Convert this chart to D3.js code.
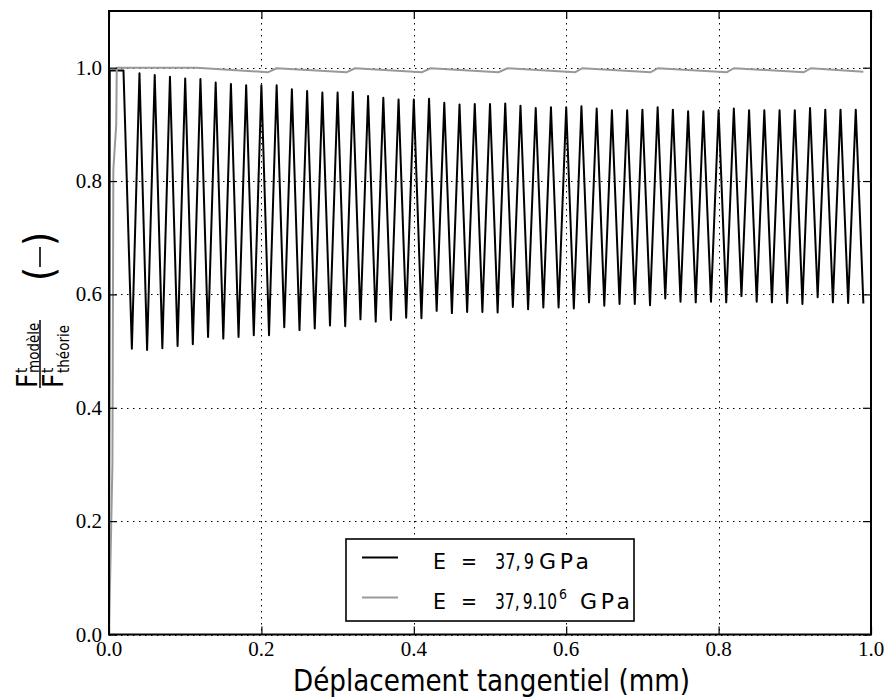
<!DOCTYPE html>
<html><head><meta charset="utf-8">
<script src="https://cdn.jsdelivr.net/npm/d3@7"></script>
<style>body{margin:0;background:#fff}svg{display:block}</style>
</head><body><svg id="c" width="885" height="699"></svg>
<script>
// ---- data ----
const displacementSoft = [0, 0.001, 0.019, 0.03, 0.04, 0.05, 0.06, 0.07, 0.08, 0.09, 0.10, 0.11, 0.12, 0.13, 0.14, 0.15, 0.16, 0.17, 0.18, 0.19, 0.20, 0.21, 0.22, 0.23, 0.24, 0.25, 0.26, 0.27, 0.28, 0.29, 0.30, 0.31, 0.32, 0.33, 0.34, 0.35, 0.36, 0.37, 0.38, 0.39, 0.40, 0.41, 0.42, 0.43, 0.44, 0.45, 0.46, 0.47, 0.48, 0.49, 0.50, 0.51, 0.52, 0.53, 0.54, 0.55, 0.56, 0.57, 0.58, 0.59, 0.60, 0.61, 0.62, 0.63, 0.64, 0.65, 0.66, 0.67, 0.68, 0.69, 0.70, 0.71, 0.72, 0.73, 0.74, 0.75, 0.76, 0.77, 0.78, 0.79, 0.80, 0.81, 0.82, 0.83, 0.84, 0.85, 0.86, 0.87, 0.88, 0.89, 0.90, 0.91, 0.92, 0.93, 0.94, 0.95, 0.96, 0.97, 0.98, 0.99];
const ratioSoft = [0, 0.995, 0.995, 0.504, 0.990, 0.502, 0.987, 0.505, 0.984, 0.509, 0.981, 0.512, 0.980, 0.525, 0.974, 0.522, 0.971, 0.525, 0.969, 0.528, 0.969, 0.528, 0.969, 0.542, 0.962, 0.537, 0.959, 0.540, 0.956, 0.545, 0.956, 0.544, 0.957, 0.556, 0.950, 0.552, 0.947, 0.555, 0.944, 0.559, 0.944, 0.558, 0.945, 0.571, 0.938, 0.567, 0.935, 0.569, 0.936, 0.569, 0.936, 0.568, 0.937, 0.578, 0.933, 0.574, 0.929, 0.577, 0.930, 0.577, 0.930, 0.575, 0.932, 0.586, 0.928, 0.580, 0.925, 0.583, 0.925, 0.583, 0.926, 0.581, 0.930, 0.593, 0.926, 0.587, 0.923, 0.586, 0.923, 0.587, 0.925, 0.586, 0.928, 0.597, 0.925, 0.587, 0.925, 0.586, 0.925, 0.585, 0.925, 0.583, 0.929, 0.595, 0.926, 0.586, 0.926, 0.585, 0.926, 0.584];
const displacementStiff = [0, 0.0045, 0.0057, 0.0095, 0.0102, 0.115, 0.209, 0.220, 0.312, 0.323, 0.411, 0.422, 0.511, 0.523, 0.612, 0.621, 0.711, 0.720, 0.811, 0.820, 0.912, 0.921, 0.990];
const ratioStiff = [0, 0.30, 0.82, 0.90, 1.000, 1.000, 0.992, 0.999, 0.992, 0.999, 0.992, 0.999, 0.992, 0.999, 0.992, 0.999, 0.992, 0.999, 0.992, 0.999, 0.992, 0.999, 0.993];
const xTicks = [0, 0.2, 0.4, 0.6, 0.8, 1.0];
const xTickLabels = ["0.0", "0.2", "0.4", "0.6", "0.8", "1.0"];
const yTicks = [0, 0.2, 0.4, 0.6, 0.8, 1.0];
const yTickLabels = ["0.0", "0.2", "0.4", "0.6", "0.8", "1.0"];
const xLabel = "Déplacement tangentiel (mm)";
const seriesColors = ["#000000", "#999999"];

// ---- layout ----
const L = 109, R = 871, T = 11, B = 634.5;
const svg = d3.select("#c");
const x = d3.scaleLinear().domain([0, 1]).range([L, R]);
const y = d3.scaleLinear().domain([0, 1.1]).range([B, T]);
const SANS = "'DejaVu Sans Condensed','DejaVu Sans',sans-serif";
const SANSW = "'DejaVu Sans',sans-serif";
const SERIF = "'Liberation Serif','Times New Roman',serif";

// grid
const grid = svg.append("g").attr("stroke", "#000").attr("stroke-width", 1).attr("stroke-dasharray", "1.5,4.5");
grid.selectAll(".gx").data(xTicks).join("line")
  .attr("x1", d => Math.round(x(d)) + 0.5).attr("x2", d => Math.round(x(d)) + 0.5).attr("y1", T).attr("y2", B);
grid.selectAll(".gy").data(yTicks).join("line")
  .attr("y1", d => Math.round(y(d)) + 0.5).attr("y2", d => Math.round(y(d)) + 0.5).attr("x1", L).attr("x2", R);

// lines
const line = d3.line().x(d => x(d[0])).y(d => y(d[1]));
const soft = displacementSoft.map((d, i) => [d, ratioSoft[i]]);
const stiff = displacementStiff.map((d, i) => [d, ratioStiff[i]]);
svg.append("path").attr("d", line(soft)).attr("fill", "none").attr("stroke", seriesColors[0])
  .attr("stroke-width", 2).attr("stroke-linejoin", "round");
svg.append("path").attr("d", line(stiff)).attr("fill", "none").attr("stroke", seriesColors[1])
  .attr("stroke-width", 2).attr("stroke-linejoin", "round");

// axes: inward ticks on all sides (labels drawn separately)
function styleAxis(g) {
  g.select(".domain").remove();
  g.selectAll(".tick line").attr("stroke", "#000").attr("stroke-width", 1.2);
  g.selectAll(".tick text").remove();
}
svg.append("g").attr("transform", `translate(0,${B})`).call(d3.axisBottom(x).tickValues(xTicks).tickSize(-8)).call(styleAxis);
svg.append("g").attr("transform", `translate(0,${T})`).call(d3.axisTop(x).tickValues(xTicks).tickSize(-8)).call(styleAxis);
svg.append("g").attr("transform", `translate(${L},0)`).call(d3.axisLeft(y).tickValues(yTicks).tickSize(-8)).call(styleAxis);
svg.append("g").attr("transform", `translate(${R},0)`).call(d3.axisRight(y).tickValues(yTicks).tickSize(-8)).call(styleAxis);

// tick labels
svg.append("g").selectAll("text").data(xTicks).join("text")
  .attr("x", d => x(d)).attr("y", 656).attr("text-anchor", "middle")
  .style("font-family", SERIF).style("font-size", "21px").attr("fill", "#000")
  .text((d, i) => xTickLabels[i]);
svg.append("g").selectAll("text").data(yTicks).join("text")
  .attr("x", 102).attr("y", d => y(d) + 7).attr("text-anchor", "end")
  .style("font-family", SERIF).style("font-size", "21px").attr("fill", "#000")
  .text((d, i) => yTickLabels[i]);

// frame
svg.append("rect").attr("x", L).attr("y", T).attr("width", R - L).attr("height", B - T)
  .attr("fill", "none").attr("stroke", "#000").attr("stroke-width", 2);

// x label
svg.append("text").attr("x", 293).attr("y", 691)
  .attr("textLength", 397).attr("lengthAdjust", "spacingAndGlyphs")
  .style("font-family", SANS).style("font-size", "31px").attr("fill", "#000").text(xLabel);

// y label (fraction + unit), rotated
const yl = svg.append("g").attr("transform", "translate(40,354) rotate(-90)")
  .style("font-family", SANS).attr("fill", "#000");
yl.append("line").attr("x1", -34).attr("x2", 34).attr("y1", 0).attr("y2", 0).attr("stroke", "#000").attr("stroke-width", 1.5);
yl.append("text").attr("x", -34).attr("y", -3).style("font-size", "28px").text("F");
yl.append("text").attr("x", -19).attr("y", -13).style("font-size", "15px").text("t");
yl.append("text").attr("x", -19).attr("y", -1.5).style("font-size", "15px").text("modèle");
yl.append("text").attr("x", -34).attr("y", 23).style("font-size", "28px").text("F");
yl.append("text").attr("x", -19).attr("y", 13).style("font-size", "15px").text("t");
yl.append("text").attr("x", -19).attr("y", 29).style("font-size", "15px").text("théorie");
yl.append("text").attr("x", 73).attr("y", 13).style("font-size", "40px").text("(");
yl.append("line").attr("x1", 87).attr("x2", 107).attr("y1", 0).attr("y2", 0).attr("stroke", "#000").attr("stroke-width", 1.6);
yl.append("text").attr("x", 122).attr("y", 13).attr("text-anchor", "end").style("font-size", "40px").text(")");

// legend
const lg = svg.append("g");
lg.append("rect").attr("x", 346).attr("y", 539).attr("width", 288).attr("height", 82)
  .attr("fill", "#fff").attr("stroke", "#000").attr("stroke-width", 1.6);
lg.append("line").attr("x1", 362).attr("x2", 398).attr("y1", 557.5).attr("y2", 557.5).attr("stroke", seriesColors[0]).attr("stroke-width", 2);
lg.append("line").attr("x1", 362).attr("x2", 398).attr("y1", 597.5).attr("y2", 597.5).attr("stroke", seriesColors[1]).attr("stroke-width", 2);
const lt = lg.append("g").style("font-family", SANSW).style("font-size", "21px").attr("fill", "#000");
function tok(parent, str, x0, yb, w, adj, fs, fam) {
  const t = parent.append("text").attr("x", x0).attr("y", yb).text(str);
  if (w) t.attr("textLength", w).attr("lengthAdjust", adj || "spacingAndGlyphs");
  if (fs) t.style("font-size", fs + "px");
  if (fam) t.style("font-family", fam);
  return t;
}
tok(lt, "E", 433, 569, 13);
tok(lt, "=", 461, 569, 16);
tok(lt, "37,\u20099", 495, 569, 39, null, 21, SANS);
tok(lt, "GPa", 539, 569, 50, "spacing", 22);
tok(lt, "E", 433, 609, 13);
tok(lt, "=", 461, 609, 16);
const num2 = lt.append("text").attr("y", 609).style("font-family", SANS).style("font-size", "21px");
num2.append("tspan").attr("x", 495).attr("textLength", 62).attr("lengthAdjust", "spacingAndGlyphs").text("37,\u20099.10");
num2.append("tspan").attr("x", 559).attr("dy", -10).style("font-size", "14px").text("6");
tok(lt, "GPa", 580, 609, 50, "spacing", 22);
</script></body></html>
